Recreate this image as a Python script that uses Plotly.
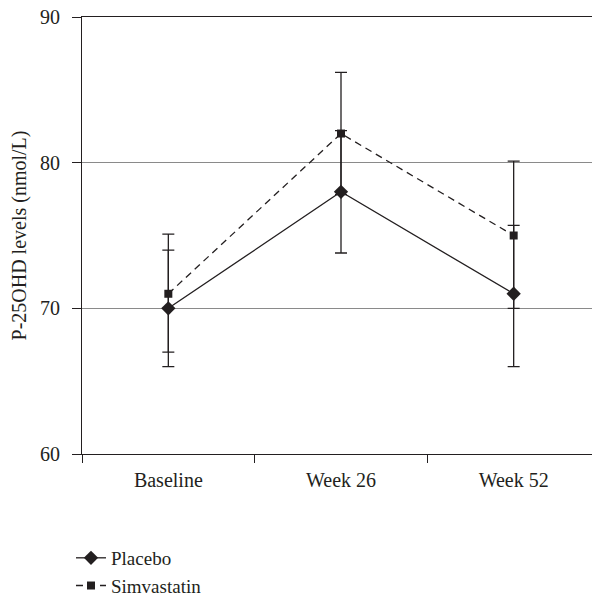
import plotly.graph_objects as go

categories = ["Baseline", "Week 26", "Week 52"]
placebo = [70, 78, 71]
placebo_err_plus = [4.0, 4.2, 4.7]
placebo_err_minus = [4.0, 4.2, 5.0]
simva = [71, 82, 75]
simva_err_plus = [4.1, 4.2, 5.1]
simva_err_minus = [4.0, 4.2, 5.0]
y_ticks = [60, 70, 80, 90]
y_title = "P-25OHD levels (nmol/L)"

INK = "#231f20"
FONT = "Liberation Serif"
FS = 20

# The page body has an 8px default margin, so the figure is drawn at (8, 8);
# size and margins compensate for that offset.
W, H = 592, 588
ML, MR, MT, MB = 74, 0, 9, 142

fig = go.Figure()
fig.add_trace(go.Scatter(
    x=categories, y=simva, name="Simvastatin", mode="lines+markers",
    line=dict(color=INK, width=1.3, dash="7px,5px"),
    marker=dict(symbol="square", size=8, color=INK),
    error_y=dict(type="data", array=simva_err_plus, arrayminus=simva_err_minus,
                 color=INK, thickness=1.3, width=6),
    legendrank=2,
))
fig.add_trace(go.Scatter(
    x=categories, y=placebo, name="Placebo", mode="lines+markers",
    line=dict(color=INK, width=1.3),
    marker=dict(symbol="diamond", size=11, color=INK),
    error_y=dict(type="data", array=placebo_err_plus, arrayminus=placebo_err_minus,
                 color=INK, thickness=1.3, width=6),
    legendrank=1,
))

fig.add_annotation(
    text=y_title, xref="paper", yref="paper", x=-0.1197, y=0.5,
    xanchor="center", yanchor="middle", textangle=-90, showarrow=False,
    font=dict(family=FONT, size=FS, color=INK),
)

fig.update_layout(
    width=W, height=H,
    margin=dict(l=ML, r=MR, t=MT, b=MB, autoexpand=False),
    paper_bgcolor="white", plot_bgcolor="white",
    font=dict(family=FONT, size=FS, color=INK),
    showlegend=True,
    legend=dict(xref="container", yref="container", x=0.1064, y=0.097,
                xanchor="left", yanchor="top", traceorder="normal",
                font=dict(family=FONT, size=FS - 1, color=INK),
                bgcolor="rgba(0,0,0,0)", itemwidth=30, tracegroupgap=0),
    xaxis=dict(type="category", range=[-0.5, 2.5], tickson="boundaries",
               ticks="outside", ticklen=8, tickwidth=1.2, tickcolor=INK,
               showline=True, linecolor=INK, linewidth=1.2, mirror=True,
               showgrid=False, zeroline=False, automargin=False,
               ticklabelstandoff=8,
               tickfont=dict(family=FONT, size=FS, color=INK)),
    yaxis=dict(range=[60, 90], tickvals=y_ticks, ticks="outside", ticklen=9,
               tickwidth=1.2, tickcolor=INK, showline=True, linecolor=INK,
               linewidth=1.2, showgrid=True, gridcolor="#8a8a8a", gridwidth=1.3,
               zeroline=False, ticklabelstandoff=8, automargin=False,
               ticklabeloverflow="allow",
               tickfont=dict(family=FONT, size=FS, color=INK)),
)

fig.write_html("out.html")
